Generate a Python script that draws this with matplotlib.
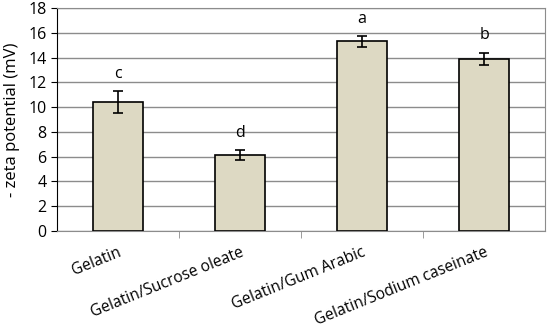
import numpy as np
import matplotlib.pyplot as plt

categories = ["Gelatin", "Gelatin/Sucrose oleate", "Gelatin/Gum Arabic", "Gelatin/Sodium caseinate"]
zeta = [10.4, 6.1, 15.3, 13.9]
errors = [0.9, 0.4, 0.45, 0.5]
letters = ["c", "d", "a", "b"]

plt.rcParams['font.family'] = ['Open Sans', 'DejaVu Sans']

fig = plt.figure(figsize=(5.5, 3.31), dpi=100)
ax = fig.add_axes([0.1036, 0.302, 0.8874, 0.674])

x = np.arange(len(categories))
ax.bar(x, zeta, width=0.41, color="#DDD9C3", edgecolor="black", linewidth=1.2, zorder=3)
ax.errorbar(x, zeta, yerr=errors, fmt="none", ecolor="black", elinewidth=1.2,
            capsize=3.5, capthick=1.2, zorder=4)
for xi, v, e, l in zip(x, zeta, errors, letters):
    ax.text(xi, v + e + 0.75, l, ha="center", va="bottom", fontsize=11.5)

ax.set_xlim(-0.5, len(categories) - 0.5)
ax.set_ylim(0, 18)
ax.set_yticks(np.arange(0, 19, 2))
ax.yaxis.grid(True, color="#8c8c8c", linewidth=1, zorder=0)
ax.set_axisbelow(True)

ax.set_xticks(x)
ax.set_xticklabels(categories, rotation=22, ha="right", rotation_mode="anchor", fontsize=11.2)
ax.tick_params(axis="x", length=0, pad=10)
ax.set_xticks(x[:-1] + 0.5, minor=True)
ax.tick_params(axis="x", which="minor", length=5, color="#8c8c8c")
ax.tick_params(axis="y", labelsize=11.5, length=4)

ax.set_ylabel("- zeta potential (mV)", fontsize=12, labelpad=6)

for s in ["top", "right"]:
    ax.spines[s].set_color("#8c8c8c")
ax.spines["bottom"].set_color("#8c8c8c")
ax.spines["left"].set_color("black")

fig.savefig("out.png", dpi=100)
